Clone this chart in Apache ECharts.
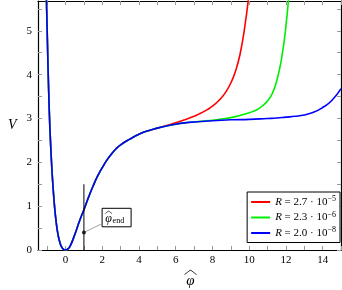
<!DOCTYPE html>
<html>
<head>
<meta charset="utf-8">
<script src="https://cdn.jsdelivr.net/npm/echarts@6/dist/echarts.min.js"></script>
<style>
html,body{margin:0;padding:0;background:#fff;}
#c{width:342px;height:290px;}
</style>
</head>
<body>
<div id="c"></div>
<script>
// ---- data ----
const blueX = [-1.1, -1.0, -0.9, -0.8, -0.7, -0.6, -0.5, -0.4, -0.3, -0.2, -0.1, 0, 0.1, 0.25, 0.5, 0.75, 1.0, 1.25, 1.5, 1.75, 2.0, 2.25, 2.5, 2.75, 3.0, 3.5, 4.0, 4.5, 5.0, 5.5, 6.0, 6.5, 7.0, 8.0, 9.0, 10.0, 11.0, 11.5, 12.0, 12.5, 13.0, 13.5, 14.0, 14.5, 15.0];
const blueV = [6.75, 5.0, 3.35, 2.3, 1.55, 1.0, 0.6, 0.33, 0.16, 0.06, 0.015, 0, 0.015, 0.09, 0.35, 0.65, 0.92, 1.2, 1.46, 1.69, 1.88, 2.05, 2.19, 2.31, 2.4, 2.53, 2.64, 2.72, 2.78, 2.83, 2.87, 2.9, 2.92, 2.95, 2.97, 2.98, 3.0, 3.01, 3.03, 3.05, 3.08, 3.14, 3.25, 3.41, 3.68];

const redX = [-1.1, -1.0, -0.9, -0.8, -0.7, -0.6, -0.5, -0.4, -0.3, -0.2, -0.1, 0, 0.1, 0.25, 0.5, 0.75, 1.0, 1.25, 1.5, 1.75, 2.0, 2.25, 2.5, 2.75, 3.0, 3.5, 4.0, 4.5, 5.0, 5.5, 6.0, 6.5, 7.0, 7.25, 7.5, 7.75, 8.0, 8.25, 8.5, 8.75, 9.0, 9.25, 9.5, 9.75, 10.0, 10.25];
const redV = [6.75, 5.0, 3.35, 2.3, 1.55, 1.0, 0.6, 0.33, 0.16, 0.06, 0.015, 0, 0.015, 0.09, 0.35, 0.65, 0.92, 1.2, 1.46, 1.69, 1.88, 2.05, 2.19, 2.31, 2.4, 2.53, 2.64, 2.72, 2.78, 2.84, 2.9, 2.97, 3.05, 3.1, 3.15, 3.21, 3.28, 3.37, 3.48, 3.62, 3.81, 4.07, 4.46, 5.06, 5.88, 7.0];

const greenX = [-1.1, -1.0, -0.9, -0.8, -0.7, -0.6, -0.5, -0.4, -0.3, -0.2, -0.1, 0, 0.1, 0.25, 0.5, 0.75, 1.0, 1.25, 1.5, 1.75, 2.0, 2.25, 2.5, 2.75, 3.0, 3.5, 4.0, 4.5, 5.0, 5.5, 6.0, 6.5, 7.0, 7.5, 8.0, 8.5, 9.0, 9.5, 10.0, 10.25, 10.5, 10.75, 11.0, 11.25, 11.5, 11.75, 12.0, 12.25];
const greenV = [6.75, 5.0, 3.35, 2.3, 1.55, 1.0, 0.6, 0.33, 0.16, 0.06, 0.015, 0, 0.015, 0.09, 0.35, 0.65, 0.92, 1.2, 1.46, 1.69, 1.88, 2.05, 2.19, 2.31, 2.4, 2.53, 2.64, 2.72, 2.78, 2.83, 2.87, 2.9, 2.92, 2.94, 2.96, 2.99, 3.02, 3.07, 3.13, 3.17, 3.22, 3.3, 3.4, 3.56, 3.86, 4.33, 5.1, 6.3];

const seriesNames = ['R = 2.7 · 10^-5', 'R = 2.3 · 10^-6', 'R = 2.0 · 10^-8'];
const legendParts = [['2.7', '−5'], ['2.3', '−6'], ['2.0', '−8']];

const xTickLabels = [0, 2, 4, 6, 8, 10, 12, 14];
const xTicks = [-1, 0, 1, 2, 3, 4, 5, 6, 7, 8, 9, 10, 11, 12, 13, 14, 15];
const yTickLabels = [0, 1, 2, 3, 4, 5];
const yTicks = [0, 0.5, 1, 1.5, 2, 2.5, 3, 3.5, 4, 4.5, 5, 5.5];

// phi_end marker
const phiEnd = 1.0;
const phiEndDot = 0.4;
const phiEndLineTop = 1.5;
const annotBox = [2.78, 0.74];
const annotPinEnd = [1.93, 0.59];

const zip = (a, b) => a.map((v, i) => [v, b[i]]);

const serif = '"Liberation Serif", "DejaVu Serif", serif';

const chart = echarts.init(document.getElementById('c'), null, {renderer: 'canvas'});

const tickStyle = {show: true, inside: true, length: 4, lineStyle: {color: '#999', width: 1}};
const axisLineStyle = {show: true, onZero: false, lineStyle: {color: '#000', width: 1.2}};

function lineSeries(name, xs, vs, color, z) {
  return {
    name: name, type: 'line', data: zip(xs, vs), showSymbol: false, symbol: 'none',
    smooth: 0.5, clip: true, z: z,
    lineStyle: {color: color, width: 1.6}, itemStyle: {color: color}
  };
}

chart.setOption({
  animation: false,
  backgroundColor: '#fff',
  grid: {left: 38, right: 1, top: 1, bottom: 40, containLabel: false},
  xAxis: [
    {type: 'value', position: 'bottom', min: -1.5, max: 15,
     axisLine: axisLineStyle, splitLine: {show: false},
     axisTick: Object.assign({customValues: xTicks}, tickStyle),
     axisLabel: {customValues: xTickLabels, color: '#000', fontFamily: serif, fontSize: 11, margin: 5}},
    {type: 'value', position: 'top', min: -1.5, max: 15,
     axisLine: axisLineStyle, splitLine: {show: false},
     axisTick: Object.assign({customValues: xTicks}, tickStyle),
     axisLabel: {show: false}}
  ],
  yAxis: [
    {type: 'value', position: 'left', min: 0, max: 5.68,
     axisLine: axisLineStyle, splitLine: {show: false},
     axisTick: Object.assign({customValues: yTicks}, tickStyle),
     axisLabel: {customValues: yTickLabels, color: '#000', fontFamily: serif, fontSize: 11, margin: 6}},
    {type: 'value', position: 'right', min: 0, max: 5.68,
     axisLine: axisLineStyle, splitLine: {show: false},
     axisTick: Object.assign({customValues: yTicks}, tickStyle),
     axisLabel: {show: false}}
  ],
  legend: {
    data: seriesNames,
    orient: 'vertical', right: 2, top: 192,
    backgroundColor: '#fff', borderColor: '#000', borderWidth: 1,
    padding: [3, 4, 3, 4], itemGap: 2,
    icon: 'rect', itemWidth: 19, itemHeight: 2,
    formatter: function (name) {
      const i = seriesNames.indexOf(name);
      return '{i|R} = ' + legendParts[i][0] + ' · 10{s|' + legendParts[i][1] + '}';
    },
    textStyle: {
      color: '#000', fontFamily: serif, fontSize: 11, lineHeight: 13,
      rich: {
        i: {fontStyle: 'italic', fontFamily: serif, fontSize: 11},
        s: {fontFamily: serif, fontSize: 8, padding: [0, 0, 6, 0]}
      }
    }
  },
  series: [
    lineSeries(seriesNames[0], redX, redV, '#ff0000', 2),
    lineSeries(seriesNames[1], greenX, greenV, '#00ee00', 3),
    lineSeries(seriesNames[2], blueX, blueV, '#0000ff', 4),
    {type: 'line', data: [[phiEnd, 0], [phiEnd, phiEndLineTop]], symbol: 'none', z: 5,
     lineStyle: {color: '#000', width: 1}, silent: true},
    {type: 'line', data: [[phiEnd, phiEndDot], annotPinEnd], symbol: 'none', z: 5,
     lineStyle: {color: '#888', width: 0.8}, silent: true},
    {type: 'scatter', data: [[phiEnd, phiEndDot]], symbol: 'circle', symbolSize: 4, z: 6,
     itemStyle: {color: '#000'}, silent: true}
  ]
});

// annotation box and axis titles, placed through the chart's own coordinate conversion
const bc = chart.convertToPixel({gridIndex: 0}, annotBox);
const bw = 29, bh = 18.5;
const bx = bc[0] - bw / 2, by = bc[1] - bh / 2;
chart.setOption({
  graphic: [
    {type: 'text', left: 8, top: 118, z: 100,
     style: {text: 'V', font: 'italic 14px ' + serif, fill: '#000'}},
    {type: 'text', x: 190.5, y: 281, z: 100,
     style: {text: 'φ', font: 'italic 15px ' + serif, fill: '#000', align: 'center', verticalAlign: 'middle'}},
    {type: 'polyline', z: 100,
     shape: {points: [[184.5, 274.5], [187.5, 272.3], [190.5, 270.3], [193.5, 272.3], [196.5, 274.5]], smooth: 0.3},
     style: {stroke: '#000', lineWidth: 0.9, fill: null}},
    {type: 'rect', z: 100, shape: {x: bx, y: by, width: bw, height: bh},
     style: {fill: '#fff', stroke: '#000', lineWidth: 1}},
    {type: 'text', x: bx + 6.5, y: by + 11, z: 101,
     style: {text: 'φ', font: 'italic 12px ' + serif, fill: '#000', align: 'center', verticalAlign: 'middle'}},
    {type: 'polyline', z: 101,
     shape: {points: [[bx + 3, by + 5.5], [bx + 6.5, by + 3], [bx + 10, by + 5.5]], smooth: 0.3},
     style: {stroke: '#000', lineWidth: 0.7, fill: null}},
    {type: 'text', x: bx + 10.5, y: by + 13, z: 101,
     style: {text: 'end', font: '8px ' + serif, fill: '#000', align: 'left', verticalAlign: 'middle'}}
  ]
});
</script>
</body>
</html>
